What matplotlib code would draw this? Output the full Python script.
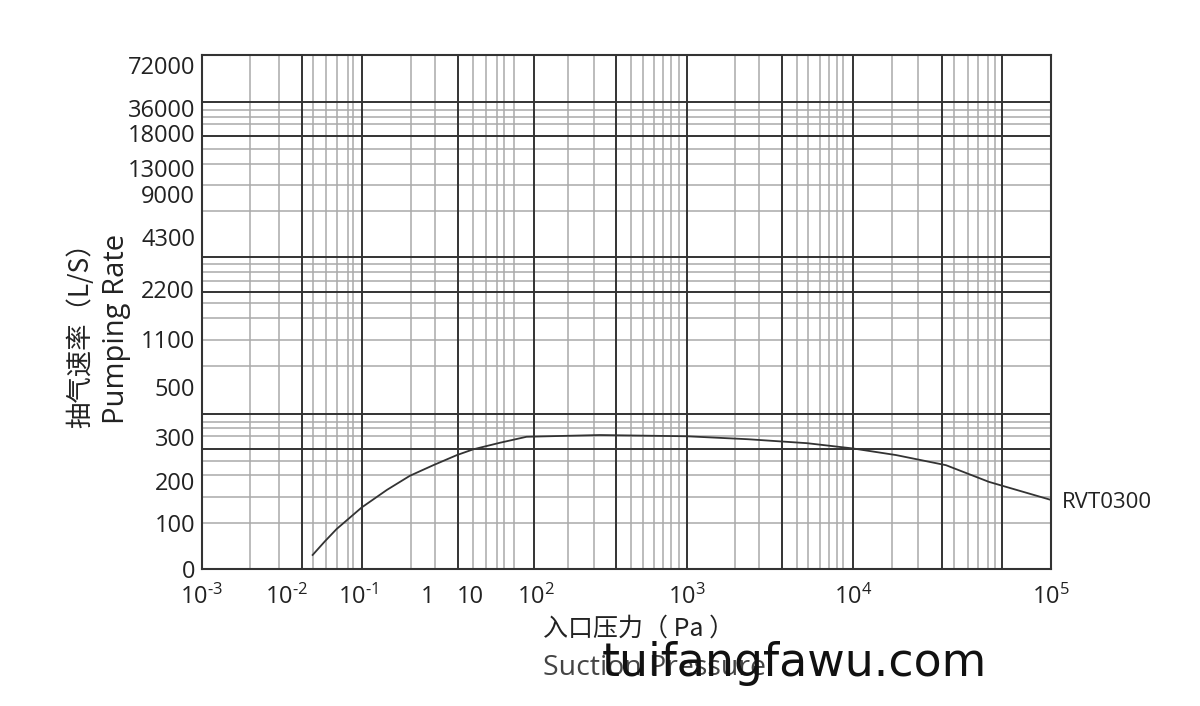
import numpy as np
import matplotlib
matplotlib.use("Agg")
import matplotlib.pyplot as plt

plt.rcParams["font.family"] = ["Open Sans", "Noto Sans CJK SC", "DejaVu Sans"]
plt.rcParams["mathtext.fontset"] = "custom"
plt.rcParams["mathtext.rm"] = "Open Sans"
plt.rcParams["mathtext.it"] = "Open Sans"
plt.rcParams["mathtext.bf"] = "Open Sans"

# pumping speed curve of RVT0300
pressure = [0.023, 0.034, 0.050, 0.113, 0.26, 0.553, 1.34, 4.9, 11.2, 28.5, 72,
            265, 1000, 2330, 5290, 10000, 16500, 29500, 48600, 100000]
speed = [31, 60, 87, 137, 179, 212, 236, 259, 272, 287, 301,
         308, 303, 295, 286, 274, 259, 236, 198, 155]
model = "RVT0300"

# the printed chart has an irregular axis: labelled values and where they sit
x_decades = [-3, -2, -1, 0, 1, 2, 3, 4, 5]
x_decade_pos = [0, 85, 156, 226, 268, 334, 485, 651, 849]
x_labels = [r"$10^{\text{-3}}$", r"$10^{\text{-2}}$", r"$10^{\text{-1}}$", "1", "10",
            "$10^{2}$", "$10^{3}$", "$10^{4}$", "$10^{5}$"]

y_ticks = [0, 100, 200, 300, 500, 1100, 2200, 4300, 9000, 13000, 18000, 36000, 72000]
y_scale_vals = y_ticks + [80000]
y_scale_pos = [0, 46.3, 88.3, 132.3, 182.3, 230.3, 280.3, 332.3, 375.3,
               401.3, 436.3, 461.3, 504.3, 514]

# grid of the printed paper (fractions of the plot box)
vgrid_dark = [0.1174, 0.1881, 0.3012, 0.3914, 0.4873, 0.5709, 0.6828, 0.7671, 0.8713, 0.9426]
vgrid_light = [0.0565, 0.0907, 0.1304, 0.1461, 0.1587, 0.1716, 0.1782, 0.2458, 0.2748,
               0.3188, 0.3345, 0.3471, 0.3557, 0.3678, 0.4314, 0.4614, 0.5053, 0.5198,
               0.5324, 0.5433, 0.5524, 0.5618, 0.6278, 0.6564, 0.7005, 0.7141, 0.7279,
               0.7389, 0.7476, 0.7554, 0.8131, 0.8437, 0.8857, 0.9026, 0.9144, 0.9261,
               0.9340]
hgrid_dark = [0.9097, 0.8436, 0.6082, 0.5401, 0.3021, 0.2335]
hgrid_light = [0.8936, 0.8805, 0.8658, 0.8177, 0.7879, 0.7477, 0.6977, 0.5940, 0.5790,
               0.5615, 0.5175, 0.4883, 0.4461, 0.3955, 0.2872, 0.2743, 0.2593, 0.2107,
               0.1835, 0.1401, 0.0895]


def x_fwd(x):
    return np.interp(np.log10(np.clip(x, 1e-9, None)), x_decades, x_decade_pos)


def x_inv(p):
    return 10.0 ** np.interp(p, x_decade_pos, x_decades)


def y_fwd(y):
    return np.interp(y, y_scale_vals, y_scale_pos)


def y_inv(p):
    return np.interp(p, y_scale_pos, y_scale_vals)


fig = plt.figure(figsize=(12, 7.06), dpi=100)
ax = fig.add_axes([0.1683, 0.1936, 0.7075, 0.728])

ax.set_xscale("function", functions=(x_fwd, x_inv))
ax.set_yscale("function", functions=(y_fwd, y_inv))
ax.set_xlim(1e-3, 1e5)
ax.set_ylim(0, 80000)

for f in vgrid_light:
    ax.plot([f, f], [0, 1], transform=ax.transAxes, color="#aaaaaa", lw=1.1, zorder=1)
for f in hgrid_light:
    ax.plot([0, 1], [f, f], transform=ax.transAxes, color="#aaaaaa", lw=1.1, zorder=1)
for f in vgrid_dark:
    ax.plot([f, f], [0, 1], transform=ax.transAxes, color="#333333", lw=1.4, zorder=2)
for f in hgrid_dark:
    ax.plot([0, 1], [f, f], transform=ax.transAxes, color="#333333", lw=1.4, zorder=2)

ax.plot(pressure, speed, color="#333333", lw=1.3, zorder=3, solid_joinstyle="round")
ax.annotate(model, xy=(pressure[-1], speed[-1]), xytext=(8, -2),
            textcoords="offset points", va="center", ha="left",
            fontsize=16, color="#222222", annotation_clip=False)

ax.set_xticks([10.0 ** d for d in x_decades])
ax.set_xticklabels(x_labels)
ax.set_yticks(y_ticks)
ax.set_yticklabels([str(v) for v in y_ticks])
ax.minorticks_off()
ax.tick_params(axis="both", length=0, labelsize=17, colors="#222222")
ax.tick_params(axis="x", pad=11)
ax.tick_params(axis="y", pad=5)

for s in ax.spines.values():
    s.set_color("#333333")
    s.set_linewidth(1.5)

fig.text(0.0667, 0.534, "抽气速率（L/S）", rotation=90, ha="center", va="center",
         fontsize=19, color="#222222", family=["Noto Sans CJK SC", "DejaVu Sans"])
fig.text(0.0967, 0.534, "Pumping Rate", rotation=90, ha="center", va="center",
         fontsize=21, color="#222222")
fig.text(0.4525, 0.109, "入口压力（ Pa ）", ha="left", va="center",
         fontsize=18, color="#222222", family=["Noto Sans CJK SC", "DejaVu Sans"])
fig.text(0.4525, 0.0439, "Suction Pressure", ha="left", va="baseline",
         fontsize=20.5, color="#444444")
fig.text(0.5017, 0.0425, "tuifangfawu.com", ha="left", va="baseline",
         fontsize=33, color="#111111", family="DejaVu Sans", zorder=10)

fig.savefig("out.png", dpi=100, facecolor="white")
